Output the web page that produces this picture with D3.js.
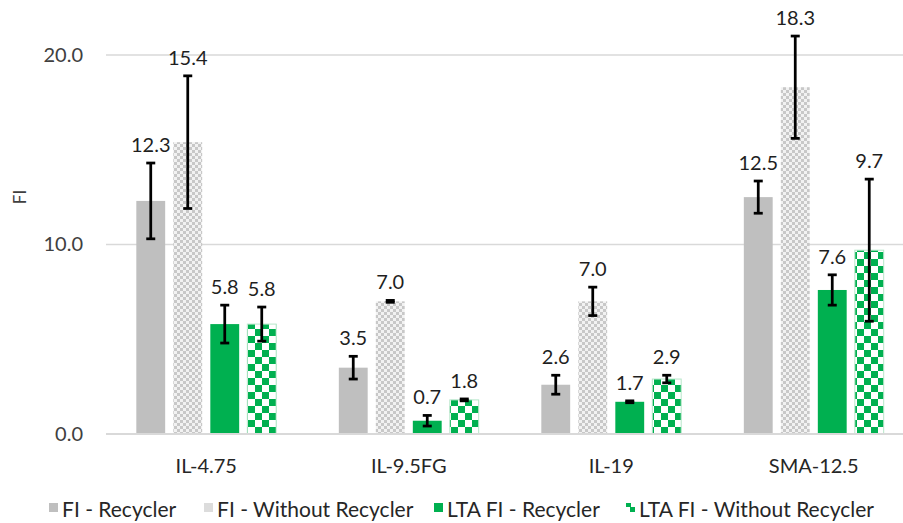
<!DOCTYPE html>
<html>
<head>
<meta charset="utf-8">
<script src="https://cdn.jsdelivr.net/npm/d3@7/dist/d3.min.js"></script>
<style>
  html, body { margin: 0; padding: 0; background: #fff; }
  svg { display: block; }
  text { font-family: Lato, "Open Sans", sans-serif; }
</style>
</head>
<body>
<svg id="chart" width="903" height="523"></svg>
<script>
// Mixture categories
const categories = ["IL-4.75", "IL-9.5FG", "IL-19", "SMA-12.5"];
const seriesNames = ["FI - Recycler", "FI - Without Recycler", "LTA FI - Recycler", "LTA FI - Without Recycler"];

// Mean FI values and their ± error for each series
const fiRecycler        = [12.3, 3.5, 2.6, 12.5];
const fiRecyclerErr     = [2.0, 0.6, 0.5, 0.85];
const fiWithout         = [15.4, 7.0, 7.0, 18.3];
const fiWithoutErr      = [3.5, 0.05, 0.75, 2.7];
const ltaRecycler       = [5.8, 0.7, 1.7, 7.6];
const ltaRecyclerErr    = [1.0, 0.28, 0.05, 0.8];
const ltaWithout        = [5.8, 1.8, 2.9, 9.7];
const ltaWithoutErr     = [0.9, 0.05, 0.2, 3.75];

const yTicks = [0, 10, 20];
const yTitle = "FI";

const seriesValues = [fiRecycler, fiWithout, ltaRecycler, ltaWithout];
const seriesErrors = [fiRecyclerErr, fiWithoutErr, ltaRecyclerErr, ltaWithoutErr];

const svg = d3.select("#chart");
const defs = svg.append("defs");

// Fine grey checkerboard
const pGrey = defs.append("pattern").attr("id", "checkGrey")
  .attr("patternUnits", "userSpaceOnUse").attr("width", 6).attr("height", 6);
pGrey.append("rect").attr("width", 6).attr("height", 6).attr("fill", "#f2f2f2");
pGrey.append("rect").attr("width", 3).attr("height", 3).attr("fill", "#c8c8c8");
pGrey.append("rect").attr("x", 3).attr("y", 3).attr("width", 3).attr("height", 3).attr("fill", "#c8c8c8");

// Large green checkerboard
const pGreen = defs.append("pattern").attr("id", "checkGreen")
  .attr("patternUnits", "userSpaceOnUse").attr("width", 14).attr("height", 14)
  .attr("x", 248).attr("y", 434);
pGreen.append("rect").attr("width", 14).attr("height", 14).attr("fill", "#ffffff");
pGreen.append("rect").attr("width", 7).attr("height", 7).attr("fill", "#00b050");
pGreen.append("rect").attr("x", 7).attr("y", 7).attr("width", 7).attr("height", 7).attr("fill", "#00b050");

const fills = ["#bfbfbf", "url(#checkGrey)", "#00b050", "url(#checkGreen)"];

const x0 = d3.scaleBand().domain(categories).range([105, 915]);
const half = 74;
const x1 = d3.scaleBand().domain(d3.range(seriesNames.length))
  .range([x0.bandwidth() / 2 - half, x0.bandwidth() / 2 + half])
  .paddingInner(0.22).paddingOuter(0.11);
const y = d3.scaleLinear().domain([0, 20]).range([434, 55]);

// Horizontal gridlines
svg.append("g").selectAll("line").data(yTicks).join("line")
  .attr("x1", 106).attr("x2", 903)
  .attr("y1", d => y(d)).attr("y2", d => y(d))
  .attr("stroke", "#d9d9d9").attr("stroke-width", 1.3);

// Y axis labels
const yAxis = d3.axisLeft(y).tickValues(yTicks).tickFormat(d3.format(".1f")).tickSize(0).tickPadding(0);
const gy = svg.append("g").attr("transform", "translate(83,0)").call(yAxis);
gy.select(".domain").remove();
gy.selectAll("text").attr("fill", "#404040").style("font-size", "20px").style("font-family", "Lato, sans-serif");

svg.append("text")
  .attr("transform", "translate(26,197) rotate(-90)")
  .attr("text-anchor", "middle")
  .attr("fill", "#404040").style("font-size", "17px")
  .text(yTitle);

// Bars
const rows = [];
categories.forEach((c, i) => {
  seriesValues.forEach((vals, s) => {
    rows.push({ cat: c, s, v: vals[i], e: seriesErrors[s][i] });
  });
});

const gBars = svg.append("g");
gBars.selectAll("rect").data(rows).join("rect")
  .attr("x", d => x0(d.cat) + x1(d.s))
  .attr("y", d => y(d.v))
  .attr("width", x1.bandwidth())
  .attr("height", d => y(0) - y(d.v))
  .attr("fill", d => fills[d.s])
  .attr("stroke", d => d.s === 3 ? "#b6e6c9" : "none")
  .attr("stroke-width", 1);

// X axis baseline
svg.append("line").attr("x1", 106).attr("x2", 903)
  .attr("y1", y(0)).attr("y2", y(0))
  .attr("stroke", "#d9d9d9").attr("stroke-width", 2);

// Error bars
const gErr = svg.append("g").attr("stroke", "#000").attr("stroke-width", 2.75).attr("fill", "none");
rows.forEach(d => {
  const cx = x0(d.cat) + x1(d.s) + x1.bandwidth() / 2;
  const top = y(d.v + d.e), bot = y(d.v - d.e);
  gErr.append("line").attr("x1", cx).attr("x2", cx).attr("y1", top).attr("y2", bot);
  gErr.append("line").attr("x1", cx - 4.5).attr("x2", cx + 4.5).attr("y1", top).attr("y2", top);
  gErr.append("line").attr("x1", cx - 4.5).attr("x2", cx + 4.5).attr("y1", bot).attr("y2", bot);
});

// Value labels above each error bar
svg.append("g").selectAll("text").data(rows).join("text")
  .attr("x", d => x0(d.cat) + x1(d.s) + x1.bandwidth() / 2)
  .attr("y", d => y(d.v + d.e) - 11)
  .attr("text-anchor", "middle")
  .attr("fill", "#1f1f1f").style("font-size", "20px")
  .text(d => d3.format(".1f")(d.v));

// Category labels
svg.append("g").selectAll("text").data(categories).join("text")
  .attr("x", d => x0(d) + x0.bandwidth() / 2)
  .attr("y", 473)
  .attr("text-anchor", "middle")
  .attr("fill", "#262626").style("font-size", "20px")
  .text(d => d);

// Legend
const legendX = [62, 217, 447, 639];
const lg = svg.append("g");
seriesNames.forEach((name, s) => {
  const g = lg.append("g").attr("transform", `translate(${legendX[s]},0)`);
  g.append("rect").attr("x", -13).attr("y", 503).attr("width", 9).attr("height", 9)
    .attr("fill", s === 3 ? "#00b050" : s === 1 ? "#dcdcdc" : fills[s]);
  if (s === 3) {
    g.append("rect").attr("x", -13).attr("y", 507).attr("width", 4).attr("height", 5).attr("fill", "#fff");
    g.append("rect").attr("x", -8).attr("y", 503).attr("width", 4).attr("height", 4).attr("fill", "#fff");
  }
  g.append("text").attr("x", 0).attr("y", 517)
    .attr("fill", "#262626").style("font-size", "21px")
    .text(name);
});
</script>
</body>
</html>
